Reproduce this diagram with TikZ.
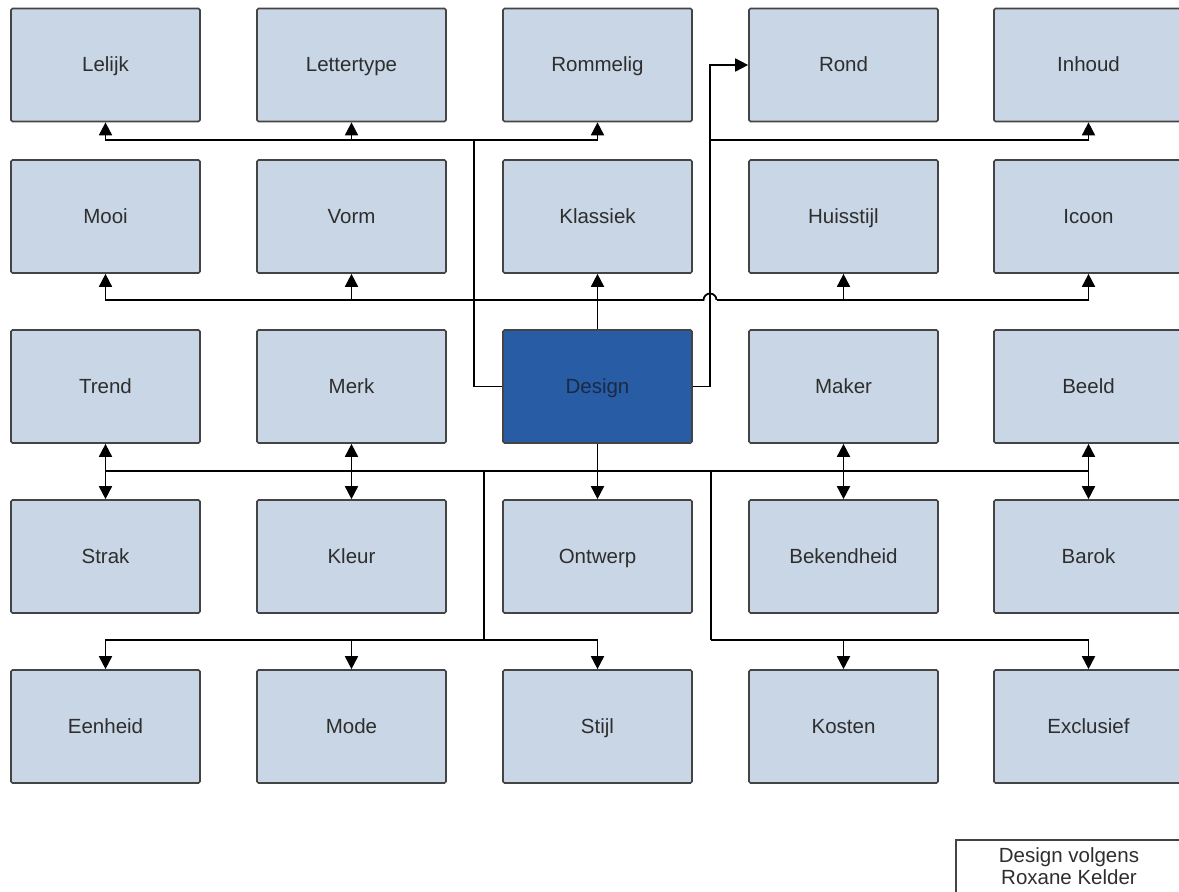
\documentclass[tikz,border=0pt]{standalone}
\usepackage{fontspec}
\setmainfont{Liberation Sans}
\usetikzlibrary{arrows.meta}
\definecolor{boxfill}{HTML}{C9D6E6}
\definecolor{boxline}{HTML}{444444}
\definecolor{designfill}{HTML}{285CA4}
\definecolor{txt}{HTML}{2E2E2E}
\definecolor{designtxt}{HTML}{1A2A44}
\begin{document}
\begin{tikzpicture}[x=1pt,y=-1pt,
  box/.style={draw=boxline, line width=1.7pt, fill=boxfill, rounded corners=1.5pt,
    minimum width=189pt, minimum height=113pt, inner sep=0pt,
    text height=17pt, text depth=4pt,
    font=\fontsize{20.5}{24}\selectfont, text=txt},
  centre/.style={box, fill=designfill, text=designtxt},
  conn/.style={draw=black, line width=1.8pt},
  bus/.style={draw=black, line width=2.8pt},
  arr/.style={conn, -{Triangle[length=13pt,width=13pt]}},
  darr/.style={conn, {Triangle[length=13pt,width=13pt]}-{Triangle[length=13pt,width=13pt]}},
  legend/.style={draw=boxline, line width=1.4pt, fill=white, minimum width=227pt,
    minimum height=62pt, inner sep=0pt},
  legendtext/.style={font=\fontsize{20.5}{22}\selectfont, text=txt, align=center}
]
\useasboundingbox (0,0) rectangle (1179,892);
\clip (0,0) rectangle (1179,892);
% row 1
\node[box] (lelijk)     at (105.5,65) {Lelijk};
\node[box] (lettertype) at (351.5,65) {Lettertype};
\node[box] (rommelig)   at (597.5,65) {Rommelig};
\node[box] (rond)       at (843.5,65) {Rond};
\node[box] (inhoud)     at (1088.5,65) {Inhoud};
% row 2
\node[box] (mooi)      at (105.5,216.5) {Mooi};
\node[box] (vorm)      at (351.5,216.5) {Vorm};
\node[box] (klassiek)  at (597.5,216.5) {Klassiek};
\node[box] (huisstijl) at (843.5,216.5) {Huisstijl};
\node[box] (icoon)     at (1088.5,216.5) {Icoon};
% row 3
\node[box] (trend)  at (105.5,386.5) {Trend};
\node[box] (merk)   at (351.5,386.5) {Merk};
\node[centre] (design) at (597.5,386.5) {Design};
\node[box] (maker)  at (843.5,386.5) {Maker};
\node[box] (beeld)  at (1088.5,386.5) {Beeld};
% row 4
\node[box] (strak)      at (105.5,556.5) {Strak};
\node[box] (kleur)      at (351.5,556.5) {Kleur};
\node[box] (ontwerp)    at (597.5,556.5) {Ontwerp};
\node[box] (bekendheid) at (843.5,556.5) {Bekendheid};
\node[box] (barok)      at (1088.5,556.5) {Barok};
% row 5
\node[box] (eenheid)   at (105.5,726.5) {Eenheid};
\node[box] (mode)      at (351.5,726.5) {Mode};
\node[box] (stijl)     at (597.5,726.5) {Stijl};
\node[box] (kosten)    at (843.5,726.5) {Kosten};
\node[box] (exclusief) at (1088.5,726.5) {Exclusief};
% legend
\node[legend] (legend) at (1069.5,871) {};
\node[legendtext] (legendtxt) at (1069,866) {Design volgens\\Roxane Kelder};

% junction coordinates
\coordinate (jL) at (474,140);
\coordinate (jR) at (710,140);
\coordinate (jT) at (597.5,300);
\coordinate (hopA) at (703.5,300);
\coordinate (jB) at (597.5,471);
\coordinate (bl1) at (484,471);
\coordinate (bl2) at (484,640);
\coordinate (br1) at (711,471);
\coordinate (br2) at (711,640);

% left-top branch
\draw[conn] (design.west) -| (jL);
\draw[arr] (jL) -| (lelijk.south);
\draw[arr] (jL) -| (lettertype.south);
\draw[arr] (jL) -| (rommelig.south);
% right-top branch
\draw[arr] (design.east) -| (jR) |- (rond.west);
\draw[arr] (jR) -| (inhoud.south);
% upward branch
\draw[arr] (design.north) -- (klassiek.south);
\draw[arr] (jT) -| (mooi.south);
\draw[arr] (jT) -| (vorm.south);
\draw[conn] (jT) -- (hopA) arc[start angle=180, end angle=360, radius=6.5] coordinate (hopB);
\draw[arr] (hopB) -| (huisstijl.south);
\draw[arr] (hopB) -| (icoon.south);
% downward branch
\draw[arr] (design.south) -- (ontwerp.north);
\draw[bus] (trend.south |- jB) -- (beeld.south |- jB);
\draw[darr] (trend.south) -- (strak.north);
\draw[darr] (merk.south) -- (kleur.north);
\draw[darr] (maker.south) -- (bekendheid.north);
\draw[darr] (beeld.south) -- (barok.north);
% lower left
\draw[conn] (bl1) -- (bl2);
\draw[arr] (bl2) -| (eenheid.north);
\draw[arr] (bl2) -| (mode.north);
\draw[arr] (bl2) -| (stijl.north);
% lower right
\draw[conn] (br1) -- (br2);
\draw[arr] (br2) -| (kosten.north);
\draw[arr] (br2) -| (exclusief.north);
\end{tikzpicture}
\end{document}
